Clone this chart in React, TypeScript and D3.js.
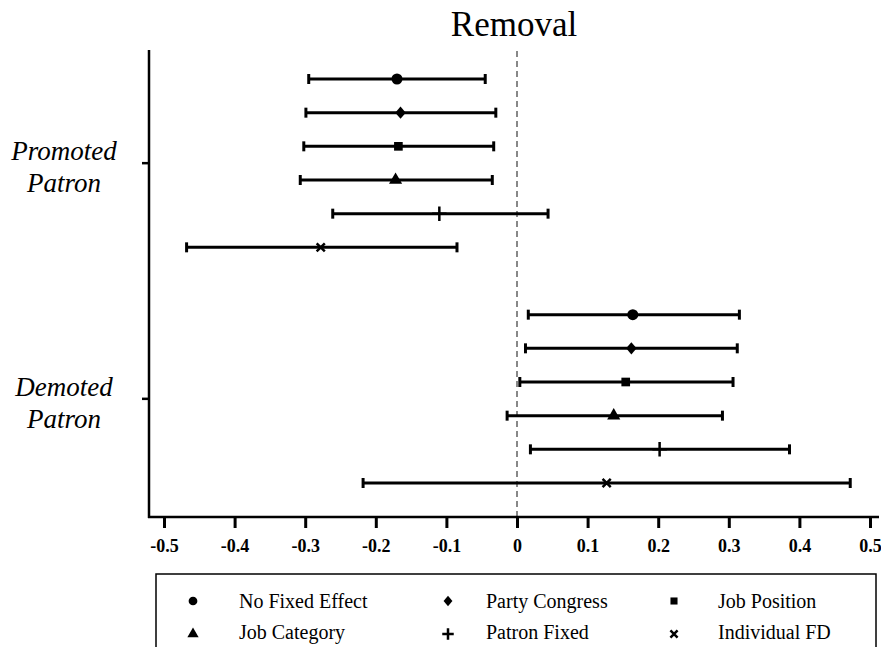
import React, { useEffect, useRef } from "react";
import * as d3 from "d3";

const groups = ["Promoted Patron", "Demoted Patron"];
const models = [
  "No Fixed Effect",
  "Party Congress",
  "Job Position",
  "Job Category",
  "Patron Fixed",
  "Individual FD",
];
const xTicks = [-0.5, -0.4, -0.3, -0.2, -0.1, 0, 0.1, 0.2, 0.3, 0.4, 0.5];

// point estimates and 95% bounds, one entry per model
const promotedEst = [-0.17, -0.165, -0.168, -0.172, -0.11, -0.278];
const promotedLo = [-0.295, -0.299, -0.302, -0.307, -0.261, -0.468];
const promotedHi = [-0.045, -0.03, -0.033, -0.035, 0.044, -0.085];

const demotedEst = [0.164, 0.162, 0.154, 0.137, 0.202, 0.127];
const demotedLo = [0.016, 0.012, 0.004, -0.014, 0.019, -0.218];
const demotedHi = [0.315, 0.312, 0.306, 0.291, 0.386, 0.472];

const W = 881;
const H = 647;
const font = "'Liberation Serif', 'Times New Roman', serif";

const symbolTypes = [
  d3.symbolCircle,
  d3.symbolDiamond2,
  d3.symbolSquare,
  d3.symbolTriangle,
  d3.symbolPlus,
  d3.symbolX,
];
const plotSizes = [95, 70, 75, 75, 70, 45];
const legendSizes = [60, 50, 50, 55, 45, 35];
const isStroke = (i: number) => i >= 4;
const yStretch = (i: number) => (i === 1 ? 1.18 : 1);

const App: React.FC = () => {
  const svgRef = useRef<SVGSVGElement>(null);

  useEffect(() => {
    const svg = d3.select(svgRef.current);
    svg.selectAll("*").remove();

    const x = d3.scaleLinear().domain([-0.5, 0.5]).range([164, 870]);
    // rows: 0-5 promoted, 7-12 demoted
    const y = d3.scaleLinear().domain([0, 12]).range([79, 483]);

    const rows = [
      ...models.map((m, i) => ({
        i,
        row: i,
        est: promotedEst[i],
        lo: promotedLo[i],
        hi: promotedHi[i],
      })),
      ...models.map((m, i) => ({
        i,
        row: i + 7,
        est: demotedEst[i],
        lo: demotedLo[i],
        hi: demotedHi[i],
      })),
    ];

    // title
    svg
      .append("text")
      .attr("x", 514)
      .attr("y", 36)
      .attr("text-anchor", "middle")
      .attr("font-family", font)
      .attr("font-size", 35)
      .text("Removal");

    // zero line
    svg
      .append("line")
      .attr("x1", x(0))
      .attr("x2", x(0))
      .attr("y1", 51)
      .attr("y2", 517)
      .attr("stroke", "#888")
      .attr("stroke-width", 2)
      .attr("stroke-dasharray", "6,4");

    // x axis
    const xAxis = d3
      .axisBottom(x)
      .tickValues(xTicks)
      .tickSize(11)
      .tickPadding(11)
      .tickFormat((d) => (d === 0 ? "0" : d3.format(".1f")(d as number).replace("\u2212", "-")));

    svg
      .append("g")
      .attr("transform", "translate(0,517)")
      .attr("font-family", font)
      .call(xAxis)
      .call((g) => g.select(".domain").remove())
      .call((g) => g.selectAll("line").attr("stroke", "#000").attr("stroke-width", 3))
      .call((g) =>
        g
          .selectAll("text")
          .attr("fill", "#000")
          .attr("font-family", font)
          .attr("font-weight", "bold")
          .attr("font-size", 18)
      );

    svg
      .append("line")
      .attr("x1", 148)
      .attr("x2", 879)
      .attr("y1", 517)
      .attr("y2", 517)
      .attr("stroke", "#000")
      .attr("stroke-width", 2.5);

    // y axis
    svg
      .append("line")
      .attr("x1", 149)
      .attr("x2", 149)
      .attr("y1", 50)
      .attr("y2", 518)
      .attr("stroke", "#000")
      .attr("stroke-width", 2.5);

    const groupCenters = [2.5, 9.5];
    groupCenters.forEach((c, gi) => {
      const yy = y(c);
      svg
        .append("line")
        .attr("x1", 142)
        .attr("x2", 149)
        .attr("y1", yy)
        .attr("y2", yy)
        .attr("stroke", "#000")
        .attr("stroke-width", 2.5);
      const words = groups[gi].split(" ");
      words.forEach((w, wi) => {
        svg
          .append("text")
          .attr("x", 64)
          .attr("y", yy + 2 + (wi === 0 ? -5 : 27))
          .attr("text-anchor", "middle")
          .attr("font-family", font)
          .attr("font-style", "italic")
          .attr("font-size", 27)
          .text(w);
      });
    });

    // error bars
    const bars = svg.append("g");
    rows.forEach((r) => {
      const yy = y(r.row);
      bars
        .append("line")
        .attr("x1", x(r.lo))
        .attr("x2", x(r.hi))
        .attr("y1", yy)
        .attr("y2", yy)
        .attr("stroke", "#000")
        .attr("stroke-width", 3);
      [r.lo, r.hi].forEach((v) => {
        bars
          .append("line")
          .attr("x1", x(v))
          .attr("x2", x(v))
          .attr("y1", yy - 5)
          .attr("y2", yy + 5)
          .attr("stroke", "#000")
          .attr("stroke-width", 3);
      });
      bars
        .append("path")
        .attr("transform", `translate(${x(r.est)},${yy}) scale(1,${yStretch(r.i)})`)
        .attr("d", d3.symbol(symbolTypes[r.i], plotSizes[r.i])())
        .attr("fill", isStroke(r.i) ? "none" : "#000")
        .attr("stroke", isStroke(r.i) ? "#000" : "none")
        .attr("stroke-width", 2.5);
    });

    // legend
    const legend = svg.append("g");
    legend
      .append("rect")
      .attr("x", 156)
      .attr("y", 574)
      .attr("width", 720)
      .attr("height", 90)
      .attr("fill", "none")
      .attr("stroke", "#000")
      .attr("stroke-width", 1.5);

    const colMarker = [193, 448, 674];
    const colText = [239, 486, 718];
    const rowY = [601, 632];
    models.forEach((m, i) => {
      const c = i % 3;
      const rr = Math.floor(i / 3);
      legend
        .append("path")
        .attr(
          "transform",
          `translate(${colMarker[c]},${rowY[rr] + (rr === 1 ? 2 : 0)}) scale(1,${yStretch(i)})`
        )
        .attr("d", d3.symbol(symbolTypes[i], legendSizes[i])())
        .attr("fill", isStroke(i) ? "none" : "#000")
        .attr("stroke", isStroke(i) ? "#000" : "none")
        .attr("stroke-width", 2.5);
      legend
        .append("text")
        .attr("x", colText[c])
        .attr("y", rowY[rr] + 7)
        .attr("font-family", font)
        .attr("font-size", 20)
        .text(m);
    });
  }, []);

  return (
    <svg
      ref={svgRef}
      width={W}
      height={H}
      style={{ position: "absolute", left: 0, top: 0, background: "#fff" }}
    ></svg>
  );
};

export default App;
